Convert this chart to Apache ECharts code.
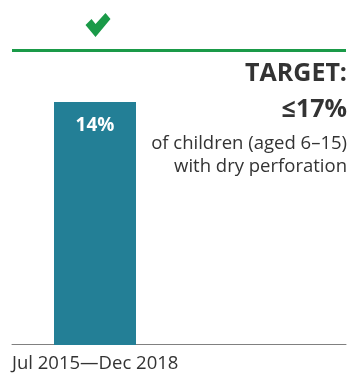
<!DOCTYPE html>
<html>
<head>
<meta charset="utf-8">
<script src="https://cdn.jsdelivr.net/npm/echarts@6/dist/echarts.min.js"></script>
<style>html,body{margin:0;padding:0;background:#fff}#c{width:349px;height:373px}</style>
</head>
<body>
<div id="c"></div>
<script>
var categories = ['Jul 2015\u2014Dec 2018'];
var values = [14];
var target = 17;
var targetTitle = ['TARGET:', '\u2264' + target + '%'];
var targetNote = ['of children (aged 6\u201315)', 'with dry perforation'];

var font = '"Open Sans", "Noto Sans", sans-serif';
var chart = echarts.init(document.getElementById('c'), null, {renderer: 'canvas'});

function txt(s, y, size, weight) {
  return {type: 'text', x: 347, y: y, silent: true,
          style: {text: s, font: (weight || 'normal') + ' ' + size + 'px ' + font, fill: '#333',
                  align: 'right', verticalAlign: 'middle'}};
}

chart.setOption({
  animation: false,
  textStyle: {fontFamily: font},
  grid: [
    {left: 12, width: 166, top: 50, bottom: 28},
    {left: 12, right: 1, top: 50, bottom: 28}
  ],
  xAxis: [
    {gridIndex: 0, type: 'category', data: categories, show: false},
    {gridIndex: 1, type: 'category', data: [categories[0], ''], boundaryGap: false,
     axisLine: {lineStyle: {color: '#808080', width: 1}}, axisTick: {show: false},
     axisLabel: {align: 'left', margin: 10, color: '#333', fontSize: 18.5, fontFamily: font}}
  ],
  yAxis: [
    {gridIndex: 0, type: 'value', min: 0, max: target, show: false},
    {gridIndex: 1, type: 'value', min: 0, max: target, show: false}
  ],
  series: [
    {type: 'bar', xAxisIndex: 0, yAxisIndex: 0, data: values, barWidth: 82,
     itemStyle: {color: '#237F96'},
     label: {show: true, position: 'insideTop', distance: 14, formatter: '{c}%', color: '#fff',
             fontSize: 19, fontWeight: 'bold', fontFamily: font},
     markPoint: {
       silent: true,
       data: [{coord: [0, target], symbol: 'path://M0,12 L6,6 L10,11 L20,0 L25,6 L10,24 Z',
               symbolSize: [25, 24], symbolOffset: [3, -25], itemStyle: {color: '#1A9A48'}, label: {show: false}}]
     }
    },
    {type: 'line', xAxisIndex: 1, yAxisIndex: 1, data: [],
     markLine: {silent: true, symbol: 'none', label: {show: false},
                lineStyle: {color: '#1A9A48', width: 3, type: 'solid'},
                data: [{yAxis: target}]}}
  ],
  graphic: [
    txt(targetTitle[0], 74, 25, 'bold'),
    txt(targetTitle[1], 110, 25, 'bold'),
    txt(targetNote[0], 144, 18.5),
    txt(targetNote[1], 167, 18.5)
  ]
});
</script>
</body>
</html>
